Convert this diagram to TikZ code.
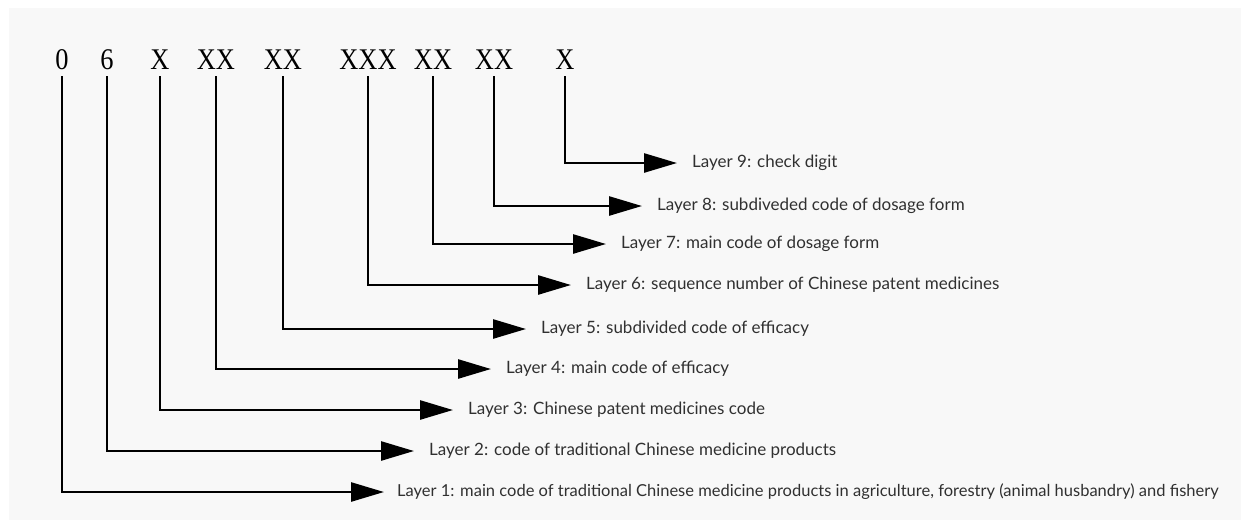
\documentclass[tikz,border=0pt]{standalone}
\usepackage{fontspec}
\setmainfont{Lato}
\newfontfamily\codefont[FakeStretch=0.88]{Liberation Serif}
\usetikzlibrary{arrows.meta}
\definecolor{panelgray}{HTML}{F8F8F8}
\definecolor{labelgray}{HTML}{303030}
\tikzset{
  code/.style={font=\codefont\fontsize{30}{30}\selectfont, inner xsep=0pt, inner ysep=7pt, anchor=base},
  layer/.style={font=\fontsize{17}{20}\selectfont, text=labelgray, anchor=west, inner xsep=15pt, inner ysep=0pt},
  link/.style={-{Triangle[length=33pt,width=19pt]}, line width=2.6pt}
}
\begin{document}
\begin{tikzpicture}[x=1pt,y=-1pt]
  \useasboundingbox (0,0) rectangle (1241,520);
  \clip (0,0) rectangle (1241,520);
  \fill[panelgray] (9,8) rectangle (1241,520);
  % code groups
  \foreach \n/\x/\t in {1/62/0, 2/107/6, 3/160/X, 4/216/XX, 5/283/XX, 6/368/XXX, 7/433/XX, 8/494/XX, 9/565/X}{
    \node[code] (c\n) at (\x,69) {\t};
  }
  % layer labels, placed at the arrow tips
  \node[layer, font=\fontsize{16.5}{20}\selectfont, inner xsep=13pt] (l1) at (384,492)
    {Layer 1: main code of traditional Chinese medicine products in agriculture, forestry (animal husbandry) and fishery};
  \foreach \n/\x/\y/\t in {
      2/414/451/{code of traditional Chinese medicine products},
      3/453/410/{Chinese patent medicines code},
      4/491/369/{main code of efficacy},
      5/526/329/{subdivided code of efficacy},
      6/571/285/{sequence number of Chinese patent medicines},
      7/606/244/{main code of dosage form},
      8/642/206/{subdiveded code of dosage form},
      9/677/163/{check digit}}{
    \node[layer] (l\n) at (\x,\y) {Layer \n: \t};
  }
  \foreach \n in {1,...,9}{
    \draw[link] (c\n.south) |- (l\n.west);
  }
\end{tikzpicture}
\end{document}
